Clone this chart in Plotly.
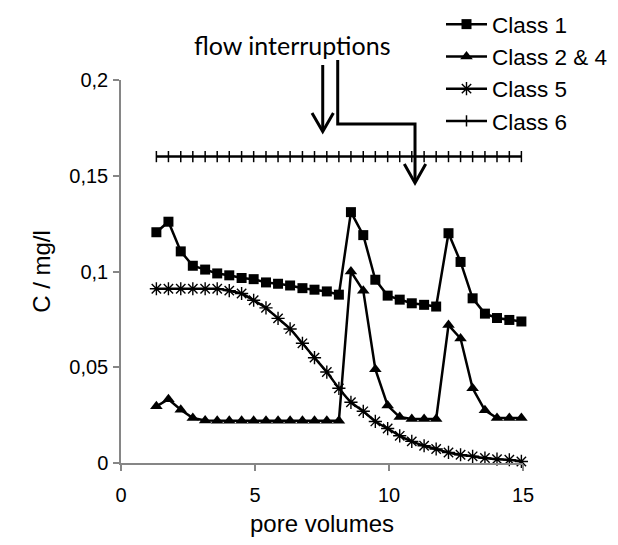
import plotly.graph_objects as go

# pore volumes (sampling points)
pore_volumes = [1.32, 1.77, 2.23, 2.68, 3.14, 3.59, 4.04, 4.50, 4.95, 5.41,
                5.86, 6.31, 6.77, 7.22, 7.68, 8.13, 8.58, 9.04, 9.49, 9.95,
                10.40, 10.85, 11.31, 11.76, 12.22, 12.67, 13.12, 13.58, 14.03, 14.49, 14.94]

class1 = [0.1205, 0.126, 0.1105, 0.103, 0.101, 0.099, 0.098, 0.0966, 0.096, 0.0943,
          0.0936, 0.0927, 0.0913, 0.0905, 0.0896, 0.0879, 0.131, 0.119, 0.0957, 0.0874,
          0.0853, 0.0834, 0.0826, 0.0817, 0.120, 0.105, 0.086, 0.078, 0.0757, 0.0747, 0.0739]

class2_4 = [0.0296, 0.0333, 0.0278, 0.0235, 0.0222, 0.022, 0.022, 0.022, 0.022, 0.022,
            0.022, 0.022, 0.022, 0.022, 0.022, 0.022, 0.100, 0.090, 0.049, 0.030,
            0.024, 0.023, 0.023, 0.023, 0.072, 0.065, 0.039, 0.0275, 0.0235, 0.0235, 0.0235]

class5 = [0.091, 0.091, 0.091, 0.091, 0.091, 0.091, 0.090, 0.0885, 0.085, 0.081,
          0.0755, 0.070, 0.0625, 0.055, 0.0475, 0.039, 0.0317, 0.027, 0.0217, 0.018,
          0.0142, 0.0113, 0.009, 0.0073, 0.0055, 0.0043, 0.0035, 0.0026, 0.002, 0.0017, 0.0008]

class6 = [0.16] * 31

y_tickvals = [0, 0.05, 0.1, 0.15, 0.2]
y_ticktext = ["0", "0,05", "0,1", "0,15", "0,2"]
x_tickvals = [0, 5, 10, 15]

OFF = 8  # default page body margin
W, H = 618 - 2 * OFF, 545 - 2 * OFF
# plot area in window pixels
L, R, T, B = 121, 523, 80, 463


def px(x, y):
    return (x - OFF) / W, 1 - (y - OFF) / H


def path(points):
    s = ""
    for i, (x, y) in enumerate(points):
        xp, yp = px(x, y)
        s += ("M" if i == 0 else "L") + f"{xp:.4f},{yp:.4f} "
    return s.strip()


fig = go.Figure()
black = "#000000"
fig.add_trace(go.Scatter(x=pore_volumes, y=class1, name="Class 1", mode="lines+markers",
                         line=dict(color=black, width=2.5),
                         marker=dict(symbol="square", size=10, color=black), cliponaxis=False))
fig.add_trace(go.Scatter(x=pore_volumes, y=class2_4, name="Class 2 & 4", mode="lines+markers",
                         line=dict(color=black, width=2.5),
                         marker=dict(symbol="triangle-up", size=11, color=black), cliponaxis=False))
fig.add_trace(go.Scatter(x=pore_volumes, y=class5, name="Class 5", mode="lines+markers",
                         line=dict(color=black, width=2.5, shape="spline", smoothing=0.6),
                         marker=dict(symbol="asterisk-open", size=11, color=black,
                                     line=dict(color=black, width=1.4)), cliponaxis=False))
fig.add_trace(go.Scatter(x=pore_volumes, y=class6, name="Class 6", mode="lines+markers",
                         line=dict(color=black, width=2.5),
                         marker=dict(symbol="line-ns-open", size=8, color=black,
                                     line=dict(color=black, width=1.5)), cliponaxis=False))

shapes = []
lw = 3
# arrow 1
shapes.append(dict(type="path", xref="paper", yref="paper",
                   path=path([(322.7, 65), (322.7, 130)]), line=dict(color=black, width=lw)))
shapes.append(dict(type="path", xref="paper", yref="paper",
                   path=path([(312, 113), (322.7, 131.5), (333.4, 113)]), line=dict(color=black, width=lw)))
# arrow 2
shapes.append(dict(type="path", xref="paper", yref="paper",
                   path=path([(337.7, 60), (337.7, 124), (415, 124), (415, 182)]),
                   line=dict(color=black, width=lw)))
shapes.append(dict(type="path", xref="paper", yref="paper",
                   path=path([(404.3, 164), (415, 183), (425.7, 164)]), line=dict(color=black, width=lw)))

ax_x, ax_y = px(292, 45)
annotations = [dict(text="flow interruptions", xref="paper", yref="paper", x=ax_x, y=ax_y,
                    showarrow=False, xanchor="center", yanchor="middle",
                    font=dict(family="Lato", size=25, color=black))]

axis_color = "#868686"
fig.update_layout(
    width=W, height=H,
    margin=dict(l=0, r=0, t=0, b=0, autoexpand=False),
    paper_bgcolor="white", plot_bgcolor="white",
    font=dict(family="Arial", size=20, color=black),
    showlegend=True,
    legend=dict(x=px(441, 0)[0], y=px(0, 3)[1], xanchor="left", yanchor="top",
                font=dict(size=22.5), tracegroupgap=0, itemwidth=41,
                bgcolor="rgba(0,0,0,0)"),
    shapes=shapes,
    annotations=annotations,
    xaxis=dict(domain=[px(L, 0)[0], px(R, 0)[0]], range=[0, 15], tickvals=x_tickvals,
               showline=True, linecolor=axis_color, linewidth=1.5, ticks="outside", ticklen=6,
               tickcolor=axis_color, tickwidth=1.5,
               showgrid=False, zeroline=False, ticklabelstandoff=7,
               title=dict(text="pore volumes", standoff=14)),
    yaxis=dict(domain=[px(0, B)[1], px(0, T)[1]], range=[0, 0.2], tickvals=y_tickvals,
               ticktext=y_ticktext, showline=True,
               linecolor=axis_color, linewidth=1.5, ticks="outside", ticklen=6,
               tickcolor=axis_color, tickwidth=1.5, showgrid=False, zeroline=False,
               ticklabelstandoff=1,
               title=dict(text="C / mg/l", standoff=12)),
)

fig.write_html("out.html")
